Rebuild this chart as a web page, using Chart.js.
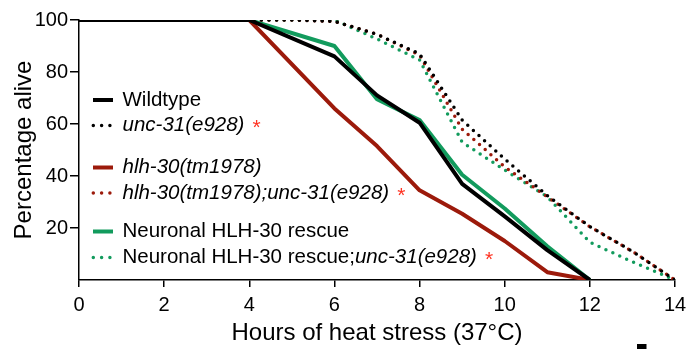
<!DOCTYPE html>
<html>
<head>
<meta charset="utf-8">
<script src="https://cdn.jsdelivr.net/npm/chart.js@4.4.1/dist/chart.umd.min.js"></script>
<style>
  body { margin: 0; background: #fff; }
  #wrap { width: 688px; height: 349px; position: relative; }
</style>
</head>
<body>
<div id="wrap"><canvas id="survival"></canvas></div>
<script>
// Survival (% alive) at each hour of 37°C heat stress; null = no point drawn
const hours = [0, 1, 2, 3, 4, 5, 6, 7, 8, 9, 10, 11, 12, 13, 14];

const wildtype      = [100, 100, 100, 100, 100, null, 86,   71,   60.5, 37,   24.5, 11.5, 0,    null, null];
const unc31         = [100, 100, 100, 100, 100, 100,  99.5, 94.5, 87,   61.5, 46.5, 32.5, 20.5, 11,   0];
const hlh30         = [100, 100, 100, 100, 100, null, 66,   51.5, 34.5, 25.5, 15,   3,    0,    null, null];
const hlh30Unc31    = [100, 100, 100, 100, 100, 100,  99.5, 94.5, 86.5, 58,   43.5, 32,   20.5, 11,   0];
const rescue        = [100, 100, 100, 100, 100, null, 90,   69.5, 61.5, 40.5, 27.5, 13,   0,    null, null];
const rescueUnc31   = [100, 100, 100, 100, 100, 100,  100,  92.7, 84.6, 53,   42.3, 32,   14.5, 7,    0];

// legend text, <i> marks the italic gene names
const seriesLabels = [
  'Wildtype',
  '<i>unc-31(e928)</i>',
  '<i>hlh-30(tm1978)</i>',
  '<i>hlh-30(tm1978);unc-31(e928)</i>',
  'Neuronal HLH-30 rescue',
  'Neuronal HLH-30 rescue;<i>unc-31(e928)</i>'
];
const significant = [false, true, false, true, false, true];

const yTicks = [20, 40, 60, 80, 100];

const FONT = "'Liberation Sans', Arial, sans-serif";
const BLACK = '#000000';
const RED = '#9c1a0b';
const GREEN = '#129b5d';
const STAR = '#ff3322';

const DOT_DASH = [0, 7.6];

function points(values) {
  return hours.map((h, i) => ({ x: h, y: values[i] }));
}

function solid(label, values, color) {
  return {
    label, data: points(values), borderColor: color, borderWidth: 4,
    borderJoinStyle: 'round', pointRadius: 0, spanGaps: true, tension: 0
  };
}

function dotted(label, values, color) {
  return {
    label, data: points(values), borderColor: color, borderWidth: 3.5,
    borderDash: DOT_DASH, borderCapStyle: 'round', pointRadius: 0, spanGaps: true, tension: 0
  };
}

// rows of the legend, grouped in pairs
const legendY = [100, 125.5, 167.5, 193, 231.5, 257.5];

const legendPlugin = {
  id: 'pairedLegend',
  afterDraw(chart) {
    const ctx = chart.ctx;
    ctx.save();
    chart.data.datasets.forEach((ds, i) => {
      const y = legendY[i];
      // line sample
      ctx.beginPath();
      ctx.strokeStyle = ds.borderColor;
      if (ds.borderDash) {
        ctx.setLineDash([0, 8.3]);
        ctx.lineCap = 'round';
        ctx.lineWidth = 3.5;
        ctx.moveTo(93.3, y);
        ctx.lineTo(110.1, y);
      } else {
        ctx.setLineDash([]);
        ctx.lineCap = 'butt';
        ctx.lineWidth = 4;
        ctx.moveTo(93, y);
        ctx.lineTo(113, y);
      }
      ctx.stroke();

      // label, switching to italic inside <i>...</i>
      ctx.fillStyle = BLACK;
      ctx.textBaseline = 'middle';
      ctx.textAlign = 'left';
      let x = 122.5;
      seriesLabels[i].split(/(<i>.*?<\/i>)/).filter(s => s).forEach(part => {
        const italic = part.startsWith('<i>');
        const text = part.replace(/<\/?i>/g, '');
        ctx.font = (italic ? 'italic ' : '') + '20.5px ' + FONT;
        ctx.fillText(text, x, y);
        x += ctx.measureText(text).width;
      });

      if (significant[i]) {
        ctx.fillStyle = STAR;
        ctx.font = '21px ' + FONT;
        ctx.textBaseline = 'alphabetic';
        ctx.fillText('*', x + 8, y + 8.5);
      }
    });

    // small black bar at the bottom edge
    ctx.fillStyle = BLACK;
    ctx.fillRect(637, 344, 9.5, 5);
    ctx.restore();
  }
};

Chart.defaults.font.family = FONT;
Chart.defaults.color = BLACK;

new Chart(document.getElementById('survival'), {
  type: 'line',
  data: {
    datasets: [
      solid(seriesLabels[0], wildtype, BLACK),
      dotted(seriesLabels[1], unc31, BLACK),
      solid(seriesLabels[2], hlh30, RED),
      dotted(seriesLabels[3], hlh30Unc31, RED),
      solid(seriesLabels[4], rescue, GREEN),
      dotted(seriesLabels[5], rescueUnc31, GREEN)
    ]
  },
  options: {
    responsive: true,
    maintainAspectRatio: false,
    animation: false,
    layout: { padding: { top: 20, right: 13, left: 0, bottom: 0 } },
    plugins: {
      legend: { display: false },
      tooltip: { enabled: false }
    },
    scales: {
      x: {
        type: 'linear',
        min: 0,
        max: 14,
        ticks: { stepSize: 2, color: BLACK, font: { size: 20 }, padding: 6, maxRotation: 0 },
        grid: { drawOnChartArea: false, drawTicks: true, tickLength: 7, color: BLACK, tickColor: BLACK, lineWidth: 1.5 },
        border: { color: BLACK, width: 1.5 },
        title: {
          display: true, text: 'Hours of heat stress (37°C)', color: BLACK,
          font: { size: 24 }, padding: { top: 0, bottom: 1.5 }
        },
        afterFit(scale) {
          scale.height = 69;
          scale.paddingLeft = 0;
          scale.paddingRight = 0;
        }
      },
      y: {
        min: 0,
        max: 100,
        afterBuildTicks(scale) { scale.ticks = yTicks.map(v => ({ value: v })); },
        ticks: { color: BLACK, font: { size: 20 }, padding: 2 },
        grid: { drawOnChartArea: false, drawTicks: true, tickLength: 9, color: BLACK, tickColor: BLACK, lineWidth: 1.5 },
        border: { color: BLACK, width: 1.5 },
        title: {
          display: true, text: 'Percentage alive', color: BLACK,
          font: { size: 24 }, padding: { top: 10, bottom: 0 }
        },
        afterFit(scale) {
          scale.width = 79;
          scale.paddingTop = 0;
          scale.paddingBottom = 0;
        }
      }
    }
  },
  plugins: [legendPlugin]
});
</script>
</body>
</html>
